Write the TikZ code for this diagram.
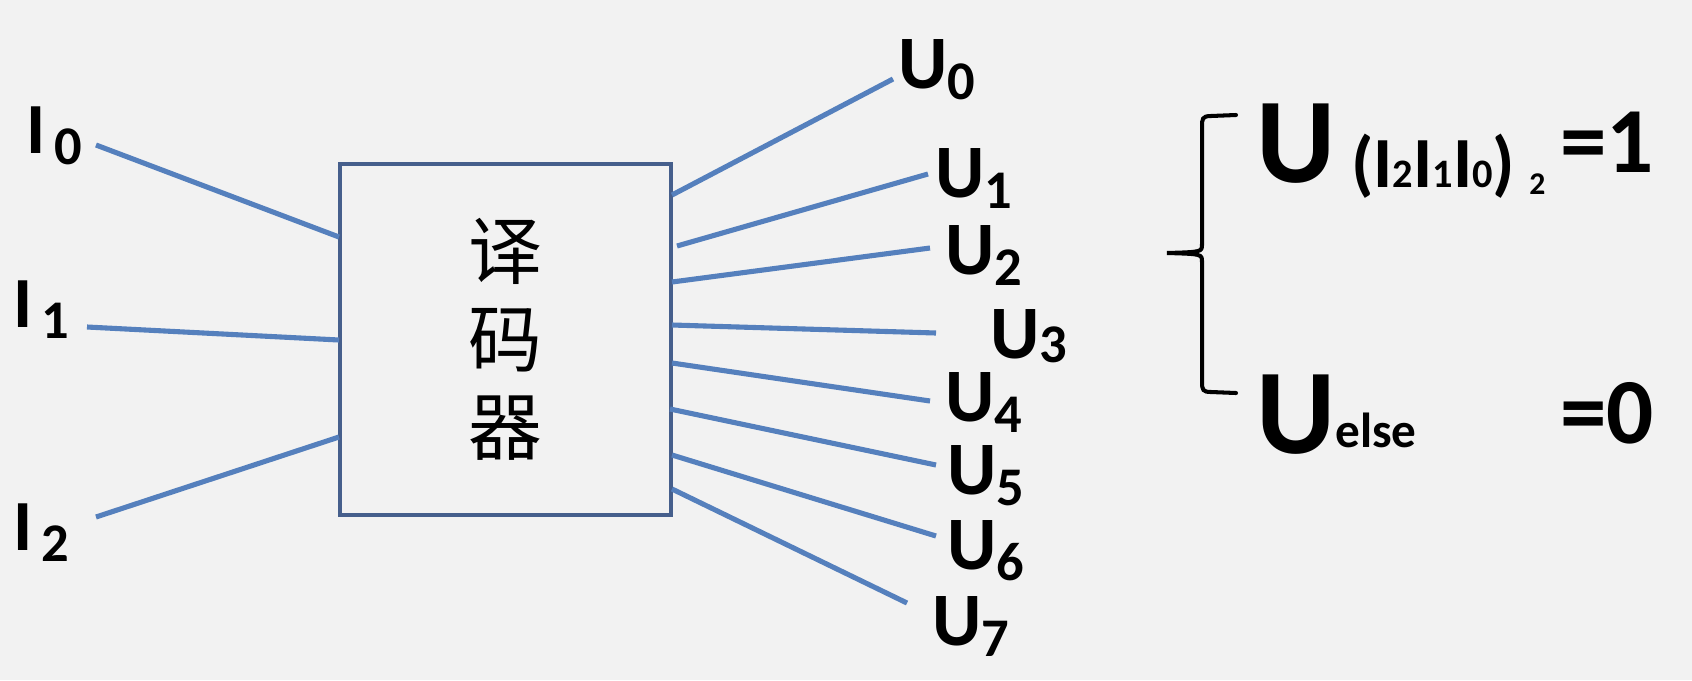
\documentclass[tikz,border=0pt]{standalone}
\usepackage{fontspec}
\setmainfont{Carlito}
\newfontfamily\cjk{Noto Sans CJK SC}

\definecolor{bg}{HTML}{F2F2F2}
\definecolor{wire}{HTML}{5580BD}
\definecolor{boxline}{HTML}{465F8C}

% labels: letter with a big lowered index
\newcommand{\ilab}[1]{\fontsize{41}{41}\selectfont I\kern5pt\raisebox{-6.8pt}{\fontsize{31}{31}\selectfont #1}}
\newcommand{\ulab}[2][-6.3pt]{\fontsize{43}{43}\selectfont U\raisebox{#1}{\fontsize{31}{31}\selectfont #2}}
\newcommand{\sm}[1]{{\fontsize{23}{23}\selectfont #1}}

\tikzset{
  lab/.style={anchor=base west, inner sep=0pt, font=\bfseries},
  decbox/.style={draw=boxline, line width=2.5pt, fill=bg,
    minimum width=6.62cm, minimum height=7.02cm, align=center,
    font=\cjk\fontsize{42}{50}\selectfont},
  wire/.style={draw=wire, line width=2.9pt},
  brace/.style={draw=black, line width=2.3pt, line cap=round}
}

\begin{document}
\begin{tikzpicture}[x=0.02cm, y=-0.02cm]
  \fill[bg] (0,0) rectangle (1692,680);
  \useasboundingbox (0,0) rectangle (1692,680);

  \node[decbox] (dec) at (505.5,339.5) {译\\码\\器};

  % inputs
  \node[lab] (I0) at (26,153) {\ilab{0}};
  \node[lab] (I1) at (13,327) {\ilab{1}};
  \node[lab] (I2) at (13,550) {\ilab{2}};
  \coordinate (a0) at (96,145);  \coordinate (b0) at (339,237);
  \coordinate (a1) at (87,327);  \coordinate (b1) at (339,340);
  \coordinate (a2) at (96,517);  \coordinate (b2) at (339,437);

  % outputs
  \node[lab] (U0) at (898,88) {\ulab{0}};
  \node[lab] (U1) at (935,197) {\ulab{1}};
  \node[lab] (U2) at (945,274) {\ulab{2}};
  \node[lab] (U3) at (990,358) {\ulab[-2.3pt]{3}};
  \node[lab] (U4) at (945,421) {\ulab{4}};
  \node[lab] (U5) at (947,494) {\ulab{5}};
  \node[lab] (U6) at (947,569) {\ulab{6}};
  \node[lab] (U7) at (932,645) {\ulab{7}};
  \coordinate (c0) at (672,195);  \coordinate (d0) at (893,79);
  \coordinate (c1) at (677,246);  \coordinate (d1) at (928,174);
  \coordinate (c2) at (672,282);  \coordinate (d2) at (930,248);
  \coordinate (c3) at (672,325);  \coordinate (d3) at (936,333);
  \coordinate (c4) at (672,363);  \coordinate (d4) at (930,401);
  \coordinate (c5) at (670,409);  \coordinate (d5) at (936,465);
  \coordinate (c6) at (672,455);  \coordinate (d6) at (936,536);
  \coordinate (c7) at (672,489);  \coordinate (d7) at (907,603);

  \begin{scope}[wire]
    \draw (a0) -- (b0);
    \draw (a1) -- (b1);
    \draw (a2) -- (b2);
    \draw (c0) -- (d0);
    \draw (c1) -- (d1);
    \draw (c2) -- (d2);
    \draw (c3) -- (d3);
    \draw (c4) -- (d4);
    \draw (c5) -- (d5);
    \draw (c6) -- (d6);
    \draw (c7) -- (d7);
  \end{scope}

  % truth rule
  \draw[brace] (1236,115) -- (1211,116) .. controls (1202,116) and (1202,119) .. (1202,127)
    -- (1202,244) .. controls (1202,252) .. (1167,253)
    .. controls (1202,254) .. (1202,262) -- (1202,382)
    .. controls (1202,390) and (1203,392) .. (1211,392) -- (1236,393);

  \node[lab] (Usel) at (1256,182) {\fontsize{69}{69}\selectfont U\kern9pt%
    \raisebox{-3.4pt}{\fontsize{41}{41}\selectfont (I\sm{2}I\sm{1}I\sm{0})}\kern8pt%
    \raisebox{-7pt}{\fontsize{18}{18}\selectfont 2}};
  \node[lab] (one) at (1560,172) {\fontsize{53}{53}\selectfont =1};
  \node[lab] (Uelse) at (1256,453) {\fontsize{69}{69}\selectfont U%
    \raisebox{3pt}{\fontsize{28}{28}\selectfont else}};
  \node[lab] (zero) at (1560,443) {\fontsize{53}{53}\selectfont =0};
\end{tikzpicture}
\end{document}
